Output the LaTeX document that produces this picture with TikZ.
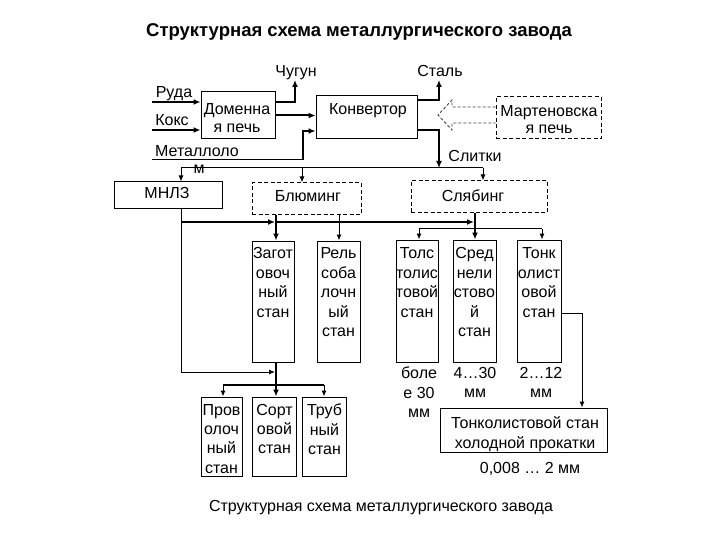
\documentclass[tikz,border=0pt]{standalone}
\usepackage{fontspec}
\setmainfont{Liberation Sans}
\usetikzlibrary{arrows.meta,calc}
\begin{document}
\begin{tikzpicture}[x=1pt,y=-1pt,
  font=\fontsize{16}{19.5}\selectfont,
  bx/.style={draw,line width=1pt,inner sep=0pt},
  dbx/.style={bx,dash pattern=on 4pt off 2.5pt},
  txt/.style={inner sep=0pt,align=center},
  thn/.style={line width=1pt},
  mid/.style={line width=1.5pt},
  thk/.style={line width=2pt},
  arr/.style={-{Latex[length=7pt,width=6pt]}},
  arrs/.style={-{Latex[length=6pt,width=5pt]}},
  hollow/.style={draw=black!75,line width=0.8pt,dash pattern=on 3pt off 2pt}
]
\useasboundingbox[fill=white] (0,0) rectangle (720,540);

% ---------- title and caption
\node[txt,anchor=base] (title) at (359,37) {\fontsize{18.5}{21}\selectfont\bfseries Структурная схема металлургического завода};
\node[txt,anchor=base] (caption) at (381,511) {Структурная схема металлургического завода};

% ---------- boxes
\node[bx,minimum width=74pt,minimum height=47pt] (dom) at (238,115.5) {};
\node[bx,minimum width=101pt,minimum height=43pt] (conv) at (366.5,117.5) {};
\node[dbx,minimum width=105pt,minimum height=42pt] (mart) at (548.5,118) {};
\node[bx,minimum width=108pt,minimum height=27pt] (mnlz) at (168,195.5) {};
\node[dbx,minimum width=109pt,minimum height=32pt] (blum) at (306.5,199) {};
\node[dbx,minimum width=136pt,minimum height=32pt] (slab) at (479,197) {};
\node[bx,minimum width=42pt,minimum height=121pt] (zag) at (273,301.5) {};
\node[bx,minimum width=43pt,minimum height=121pt] (rel) at (338.5,301.5) {};
\node[bx,minimum width=42pt,minimum height=122pt] (tol) at (417,301) {};
\node[bx,minimum width=43pt,minimum height=122pt] (sred) at (474.5,301) {};
\node[bx,minimum width=44pt,minimum height=122pt] (tonk) at (539,301) {};
\node[bx,minimum width=41pt,minimum height=79pt] (prov) at (221.5,436.5) {};
\node[bx,minimum width=44pt,minimum height=79pt] (sort) at (274.5,436.5) {};
\node[bx,minimum width=44pt,minimum height=79pt] (trub) at (324.5,436.5) {};
\node[bx,minimum width=167pt,minimum height=44pt] (cold) at (523.5,430) {};

% ---------- box texts
\node[txt,anchor=north,font=\fontsize{16}{18}\selectfont] (dom-t) at (237,103.5) {Доменна\\я печь};
\node[txt,anchor=base] (conv-t) at (368,115) {Конвертор};
\node[txt,anchor=north,font=\fontsize{16}{17}\selectfont] (mart-t) at (549,105) {Мартеновска\\я печь};
\node[txt,anchor=base] (mnlz-t) at (167,199) {МНЛЗ};
\node[txt,anchor=base] (blum-t) at (308,202) {Блюминг};
\node[txt,anchor=base] (slab-t) at (473,202) {Слябинг};
\node[txt,anchor=north] (zag-t) at (273,247.5) {Загот\\овоч\\ный\\стан};
\node[txt,anchor=north] (rel-t) at (338.5,247.5) {Рель\\соба\\лочн\\ый\\стан};
\node[txt,anchor=north] (tol-t) at (417,247.5) {Толс\\толис\\товой\\стан};
\node[txt,anchor=north] (sred-t) at (474.5,247.5) {Сред\\нели\\стово\\й\\стан};
\node[txt,anchor=north] (tonk-t) at (539,247.5) {Тонк\\олист\\овой\\стан};
\node[txt,anchor=north,font=\fontsize{16}{19.3}\selectfont] (prov-t) at (221.5,404) {Пров\\олоч\\ный\\стан};
\node[txt,anchor=north,font=\fontsize{16}{19.3}\selectfont] (sort-t) at (274.5,404) {Сорт\\овой\\стан};
\node[txt,anchor=north,font=\fontsize{16}{19.3}\selectfont] (trub-t) at (324.5,404) {Труб\\ный\\стан};
\node[txt,anchor=north] (cold-t) at (525,416.5) {Тонколистовой стан\\холодной прокатки};

% ---------- free labels
\node[txt,anchor=base] (ruda-t) at (174,98) {Руда};
\node[txt,anchor=base] (koks-t) at (172,126) {Кокс};
\node[txt,anchor=base] (met-t) at (197,156.5) {Металлоло};
\node[txt,anchor=base] (met2-t) at (199,174) {м};
\node[txt,anchor=base] (chug-t) at (296,77) {Чугун};
\node[txt,anchor=base] (stal-t) at (440,77) {Сталь};
\node[txt,anchor=base] (slit-t) at (475,162) {Слитки};
\node[txt,anchor=north] (tol-v) at (419,367) {боле\\е 30\\мм};
\node[txt,anchor=north] (sred-v) at (475,367) {4…30\\мм};
\node[txt,anchor=north] (tonk-v) at (541,367) {2…12\\мм};
\node[txt,anchor=base] (cold-v) at (530,473) {0,008 … 2 мм};

% ---------- coordinates
\coordinate (rudaS) at (152,102);
\coordinate (koksS) at (152,130);
\coordinate (chugA) at (295,80);
\coordinate (metS) at (152,160);
\coordinate (metK) at (303,131);
\coordinate (stalA) at (439,80);
\coordinate (slitA) at (439,168);
\coordinate (dL) at (181,168);
\coordinate (dB) at (302,168);
\coordinate (dR) at (483,168);
\coordinate (mA) at (181,222);
\coordinate (bV) at (276,222);
\coordinate (sV) at (475,222);
\coordinate (zB) at (276,372);
\coordinate (tolH) at (419,229);
\coordinate (tonkH) at (542,229);
\coordinate (provH) at (223,385);
\coordinate (trubH) at (324,385);
\coordinate (tc) at (582,313);
\coordinate (relV) at (339,215);

% ---------- connectors, top part
\draw[thk,arr] (rudaS) -- (rudaS -| dom.west);
\draw[thk,arr] (koksS) -- (koksS -| dom.west);
\draw[thk,arr] (dom.east |- rudaS) -- (chugA |- rudaS) -- (chugA);
\draw[thk,arr] (dom.east) -- (dom.east -| conv.west);
\draw[thn] (metS) -- (metS -| metK);
\draw[thk,arr] (metK |- metS) -- (metK) -- (metK -| conv.west);
\draw[thk,arr] ($(conv.north east)+(0,5)$) -- (stalA |- {$(conv.north east)+(0,5)$}) -- (stalA);
\draw[thk,arr] ($(conv.south east)+(0,-9)$) -- (slitA |- {$(conv.south east)+(0,-9)$}) -- (slitA);
\draw[hollow] (mart.west |- 0,107) -- (452,107) -- (452,100) -- (438,115) -- (452,130) -- (452,123) -- (mart.west |- 0,123);

% ---------- distribution line
\draw[thn] (dL) -- (dR);
\draw[thn,arrs] (dL) -- (dL |- mnlz.north);
\draw[thn,arrs] (dB) -- (dB |- blum.north);
\draw[thn,arrs] (dR) -- (dR |- slab.north);

% ---------- middle part
\draw[thn,arrs] (mnlz.south -| mA) -- (mA |- zB) -- ([xshift=-1pt]zB);
\draw[thk,arr] (mA) -- ([xshift=-1pt]bV);
\draw[thk,arr] (bV) -- ([xshift=-1pt]sV);
\draw[thk,arr] (blum.south -| bV) -- (zag.north -| bV);
\draw[thn,arrs] (blum.south -| relV) -- (rel.north -| relV);
\draw[thk,arr] (slab.south -| sV) -- (sred.north -| sV);
\draw[thn] (tolH) -- (tonkH);
\draw[thn,arrs] (tolH) -- (tolH |- tol.north);
\draw[thn,arrs] (tonkH) -- (tonkH |- tonk.north);

% ---------- lower part
\draw[thk,arr] (zag.south -| zB) -- (sort.north -| zB);
\draw[mid] (provH) -- (trubH);
\draw[thn,arrs] (provH) -- (provH |- prov.north);
\draw[thn,arrs] (trubH) -- (trubH |- trub.north);
\draw[thn,arrs] (tonk.east |- tc) -- (tc) -- (tc |- cold.north);
\end{tikzpicture}
\end{document}
